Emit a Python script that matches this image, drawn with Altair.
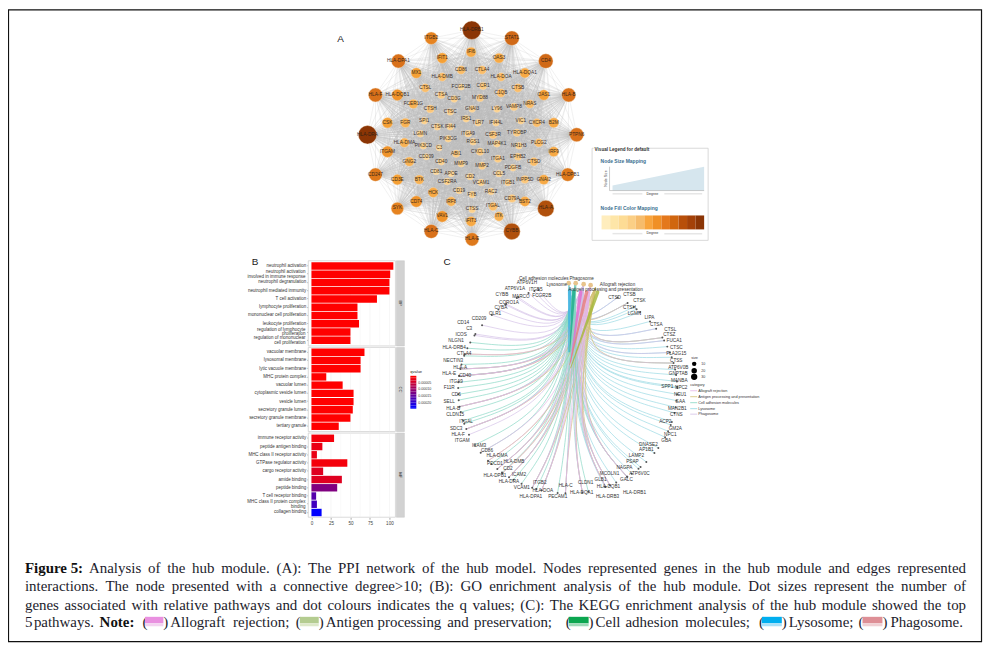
import altair as alt
import pandas as pd
import math

alt.data_transformers.disable_max_rows()

# ---------- Panel A: node name, page x, page y, estimated weight ----------
NET_NAMES = ["HLA-DRB1","ITGB2","STAT1","HLA-DPA1","CD4","IFI6","IFIT1","OAS3","MX1","CD86","CTLA4","HLA-DQA1","HLA-DMB","HLA-DOA",
 "HLA-F","HLA-DQB1","CTSL","CTSA","FCGR2B","CCR1","CTSB","C1QB","OAS1","HLA-B","CD3G","MYD88","FCER1G","NRAS","VAMP8","LY96",
 "CTSH","GNAI3","CTSC","CSK","FGR","SPI1","CTSK","IFI44","IRS1","TLR7","IFI44L","VIC1","CXCR4","B2M","LGMN","HLA-DRA","PTPN6",
 "PIK3CG","ITGA9","CSF3R","TYROBP","HLA-DMA","PIK3CD","C3","RGS1","MAP4K1","NR1H3","PLCG2","ITGAM","ABI1","CXCL10","IRF9","CD209",
 "GNG2","CD40","ITGA1","EPHB2","CTSD","MMP9","MMP2","PDGFB","CD247","HLA-DPB1","CD81","APOE","CD2","CCL5","CD3E","BTK","CSF2RA",
 "VCAM1","ITGB1","INPP5D","GNAI2","HCK","CD19","FYB","RAC2","CD79A","BST2","CD74","IRF8","ITGAL","SYK","CTSS","HLA-A","VAV1","ITK",
 "IFIT3","HLA-C","CYBB","HLA-E"]
NET_X = [473.7,433,514,400,548,473,444,501,418,463,484,527,444,503,377,399,427,443,463,485,520,503,546,571,456,482,415,532,516,499,
 432,474,452,389,407,426,439,452,468,480,498,523,539,556,422,369,579,450,470,495,519,406,425,441,475,499,521,541,389,458,482,556,428,
 411,443,500,520,536,463,484,515,377,570,438,453,472,501,399,421,449,483,510,527,546,435,461,474,493,514,527,418,453,495,399,474,548,
 444,501,473,433,514,474]
NET_Y = [29,37,37,60,60,51,57,57,72,69,69,72,76,76,94,94,87,94,86,85,87,92,94,94,98,97,103,103,106,108,108,108,111,122,122,120,126,126,
 118,122,122,120,122,122,133,134,134,138,133,134,132,142,145,147,141,143,145,142,151,153,151,151,156,161,161,158,156,161,163,165,167,
 174,174,171,173,176,173,179,179,181,182,182,179,179,192,190,194,191,198,201,201,201,206,208,209,208,216,216,221,231,231,239]
NET_W = [9.3,6.3,7.3,7,7.3,5,5.3,5,5.3,4.3,4.3,5,4.3,4.3,7,5.7,4.3,3.8,3.2,3.8,4.3,4.3,5.3,7,3.5,3.8,4.7,4.3,3.8,3.5,
 4,3.5,3.5,5.3,4.7,3.5,3.5,3.5,3.5,3.5,3.5,3.5,4.3,5,3.5,9.3,7,3.5,3.5,4,3.8,4.7,3.5,3.2,3.5,3.5,3.5,4.3,5.7,3.8,3.8,5,3.2,
 4.7,3.5,3.8,3.8,4.3,3.5,3.8,3.5,6.7,6.7,3.2,3.2,3.5,3.5,5.3,4.7,3.5,3.5,3.5,4,5,5,3.5,3.5,3.5,4,5,5.7,4.7,4.3,6.3,3.5,8.3,5.7,4.7,5,7,8.3,6.7]
WEIGHT_STOPS = [3.2,4,4.7,5.3,6,7,8.3,9.3]
WEIGHT_COLORS = ["#fdd898","#fbc679","#f8b253","#f5a035","#eb8a22","#d9711a","#b0500c","#8b3505"]
GRADIENT = ["#ffedbd","#fee6a8","#fddc95","#fbcf85","#f6bc6c","#f8a53e","#f09026","#e4781c","#d0660f","#b84f0a","#a44108","#8b3505"]

# ---------- Panel B ----------
BP_TERMS = ["neutrophil activation","neutrophil activation\ninvolved in immune response","neutrophil degranulation","neutrophil mediated immunity",
 "T cell activation","lymphocyte proliferation","mononuclear cell proliferation","leukocyte proliferation",
 "regulation of lymphocyte\nproliferation","regulation of mononuclear\ncell proliferation"]
BP_COUNT = [105,101,100,100,84,59,59,61,50,50]
BP_Q = [0,0,0,0,0,0,0,0,0,0]
CC_TERMS = ["vacuolar membrane","lysosomal membrane","lytic vacuole membrane","MHC protein complex","vacuolar lumen","cytoplasmic vesicle lumen",
 "vesicle lumen","secretory granule lumen","secretory granule membrane","tertiary granule"]
CC_COUNT = [68,63,63,19,40,54,54,53,50,35]
CC_Q = [0,0,0,0,0,0,0,0,0,0]
MF_TERMS = ["immune receptor activity","peptide antigen binding","MHC class II receptor activity","GTPase regulator activity","cargo receptor activity",
 "amide binding","peptide binding","T cell receptor binding","MHC class II protein complex\nbinding","collagen binding"]
MF_COUNT = [29,14,7,46,15,39,33,6,7,13]
MF_Q = [0.00001,0.00002,0.00002,0.00001,0.00003,0.00003,0.00012,0.00016,0.00018,0.00024]
X_TICKS = [0,25,50,75,100]
X_MINOR = [12.5,37.5,62.5,87.5]
Q_TICKS = ["0.00005","0.00010","0.00015","0.00020"]

# ---------- Panel C: gene, label page x, label page y, pathways ----------
LYSO = ["CTSD","CTSB","CTSK","CTSH","LGMN","LIPA","CTSA","CTSL","CTSZ","FUCA1","CTSC","PLA2G15","CTSS","ATP6V0B","GNPTAB","MANBA","NPC2","SPP1","NEU1",
 "GAA","MAN2B1","CTNS","ACP2","GM2A","NPC1","GBA","DNASE2","AP1B1","LAMP2","PSAP","NAGPA","ATP6V0C","GALC","MCOLN1","GLB1"]
LYSO_X = [617,632,642,632,637,652,659,673,672,677,679,679,679,681,681,682,684,670,683,683,680,679,668,678,673,669,651,649,639,635,627,642,629,612,603]
LYSO_Y = [298,295,301,308,314,318,325,330,335,341,348,354,361,368,374,381,388,387,395,402,409,415,422,429,435,441,445,451,457,463,469,475,481,475,481]
PHAG = ["ATP6V1H","ATP6V1A","ITGB5","CYBB","MARCO","FCGR2B","CORO1A","CYBA","OLR1","CD209","CD14","C3","ITGAM"]
PHAG_X = [529,517,538,504,523,544,511,503,497,481,465,471,464]
PHAG_Y = [283,289,290,295,297,296,303,308,314,319,323,329,441]
ADH = ["ICOS","NLGN1","CTLA4","NECTIN3","CD40","ITGA9","F11R","CD6","SELL","CLDN15","ITGAL","SDC3","ICAM3","CD86","PDCD1","CD2","ICAM2","ITGB2","VCAM1","PECAM1","CLDN1"]
ADH_X = [463,458,466,455,467,458,451,458,451,457,468,458,481,489,497,510,521,542,524,560,588]
ADH_Y = [335,341,354,361,376,382,388,395,402,415,422,429,446,452,465,470,476,484,489,498,484]
HLA = ["HLA-DRB4","HLA-A","HLA-E","HLA-B","HLA-F","HLA-DMA","HLA-DMB","HLA-DPB1","HLA-DRA","HLA-DOA","HLA-DPA1","HLA-C","HLA-DQA1","HLA-DQB1","HLA-DRB1","HLA-DRB3"]
HLA_X = [456,462,451,455,460,499,516,497,511,545,533,568,584,611,637,610]
HLA_Y = [348,368,374,409,435,457,463,477,483,492,498,487,494,488,494,498]
CAT_NAMES = ["Allograft rejection","Antigen processing and presentation","Cell adhesion molecules","Lysosome","Phagosome"]
CAT_EDGE = ["#e4b4e6","#d2bf72","#84d6c2","#94d8e2","#d3c0e6"]
CAT_RIBBON = ["#e070d0","#a8b840","#1fae8e","#3fb3e0","#e58080"]
CAPTION = ["Figure 5: Analysis of the hub module. (A): The PPI network of the hub model. Nodes represented genes in the hub module and edges represented",
 "interactions. The node presented with a connective degree>10; (B): GO enrichment analysis of the hub module. Dot sizes represent the number of",
 "genes associated with relative pathways and dot colours indicates the q values; (C): The KEGG enrichment analysis of the hub module showed the top"]

SX = alt.Scale(domain=[8, 988], range=[0, 980], nice=False, zero=False)
SY = alt.Scale(domain=[8, 648], range=[0, 640], nice=False, zero=False)
X = alt.X("x:Q", scale=SX, axis=None)
Y = alt.Y("y:Q", scale=SY, axis=None)
X2 = alt.X2("x2:Q")
Y2 = alt.Y2("y2:Q")
layers = []

def text(rows, size, color="#222", font="Liberation Sans", align="center", weight="normal", angle=0, opacity=1.0):
    df = pd.DataFrame(rows, columns=["x", "y", "t"])
    layers.append(alt.Chart(df).mark_text(fontSize=size, color=color, font=font, align=align, fontWeight=weight,
                                          baseline="middle", angle=angle, opacity=opacity)
                  .encode(x=X, y=Y, text="t:N"))

def rects(rows, **kw):
    df = pd.DataFrame(rows, columns=["x", "y", "x2", "y2"])
    layers.append(alt.Chart(df).mark_rect(**kw).encode(x=X, y=Y, x2=X2, y2=Y2))

def rules(rows, **kw):
    df = pd.DataFrame(rows, columns=["x", "y", "x2", "y2"])
    layers.append(alt.Chart(df).mark_rule(**kw).encode(x=X, y=Y, x2=X2, y2=Y2))

# frame
rects([[8.5, 8.5, 985.5, 643]], fill="#ffffff", fillOpacity=0, stroke="#111", strokeWidth=1.2)

# ---------- Panel A ----------
n = len(NET_NAMES)
edges = []
big = [i for i in range(n) if NET_W[i] >= 5.0]
small = [i for i in range(n) if NET_W[i] < 5.0]
for i in big:
    for j in small:
        edges.append([NET_X[i], NET_Y[i], NET_X[j], NET_Y[j]])
    for j in big:
        if i < j and math.hypot(NET_X[i]-NET_X[j], NET_Y[i]-NET_Y[j]) < 110:
            edges.append([NET_X[i], NET_Y[i], NET_X[j], NET_Y[j]])
rules(edges, color="#bcbcbc", strokeWidth=0.5, opacity=0.42)
net = pd.DataFrame({"x": NET_X, "y": NET_Y, "w": NET_W, "t": NET_NAMES})
layers.append(alt.Chart(net).mark_point(filled=True, opacity=1, stroke="#f4e4cc", strokeWidth=0.4, shape="circle").encode(
    x=X, y=Y,
    size=alt.Size("w:Q", legend=None, scale=alt.Scale(type="pow", exponent=2, domain=[0, 10], range=[0, 400])),
    color=alt.Color("w:Q", legend=None, scale=alt.Scale(domain=WEIGHT_STOPS, range=WEIGHT_COLORS, interpolate="rgb"))))
layers.append(alt.Chart(net).mark_text(fontSize=4.8, color="#2a2018", font="Liberation Sans", baseline="middle", opacity=0.9).encode(x=X, y=Y, text="t:N"))
text([[342, 38, "A"]], 10, color="#222")

# Visual legend
rects([[594.5, 147.5, 711, 240]], fill="#fff", stroke="#cfcfcf", strokeWidth=0.8)
rects([[596, 146, 638, 151]], fill="#fff")
text([[597, 149, "Visual Legend for default"]], 4.6, align="left", weight="bold", color="#333")
text([[603, 160, "Node Size Mapping"]], 5, align="left", weight="bold", color="#3a6f8f")
layers.append(alt.Chart(pd.DataFrame({"x": [615, 707], "y": [185, 166], "y2": [190, 190]}))
              .mark_area(color="#d6e6ee").encode(x=X, y=Y, y2=Y2))
rules([[612, 166, 612, 190], [612, 190, 707, 190]], color="#999", strokeWidth=0.5)
text([[608, 178, "Node Size"]], 3.6, angle=270, color="#444")
rects([[615, 192.5, 645, 194]], fill="#e6e6e6")
rects([[667, 192.5, 705, 194]], fill="#e6e6e6")
text([[655, 193, "Degree"]], 3.6, color="#333")
text([[603, 208, "Node Fill Color Mapping"]], 5, align="left", weight="bold", color="#3a6f8f")
grad = pd.DataFrame({"x": [604 + i*103/12 for i in range(12)], "x2": [604 + (i+1)*103/12 for i in range(12)], "c": GRADIENT})
grad["y"] = 215; grad["y2"] = 229
layers.append(alt.Chart(grad).mark_rect().encode(x=X, y=Y, x2=X2, y2=Y2,
              color=alt.Color("c:N", scale=None, legend=None)))
rects([[615, 232.5, 645, 234]], fill="#e6e6e6")
rects([[667, 232.5, 705, 234]], fill="#e6e6e6")
text([[655, 233, "Degree"]], 3.6, color="#333")

# ---------- Panel B ----------
text([[256, 262, "B"]], 10, color="#222")
PANELS = [(BP_TERMS, BP_COUNT, BP_Q, 260.5, 346, 261.55, 344.45, "BP"),
          (CC_TERMS, CC_COUNT, CC_Q, 347.5, 432, 348.2, 430.8, "CC"),
          (MF_TERMS, MF_COUNT, MF_Q, 433.5, 518, 434.6, 517.4, "MF")]
XB = alt.Scale(domain=[0, 100], range=[312.7-8, 391-8], nice=False, zero=False)
for k, (terms, count, q, top, bot, r0, r1, strip) in enumerate(PANELS):
    rects([[309.5, top, 397, bot]], fill="#ffffff", stroke="#d0d0d0", strokeWidth=0.8)
    rects([[398, top, 406, bot]], fill="#d2d2d2", stroke="#c4c4c4", strokeWidth=0.5)
    text([[402, (top+bot)/2, strip]], 4.2, angle=90, color="#333")
    for vals, sw in ((X_TICKS, 0.5), (X_MINOR, 0.3)):
        gd = pd.DataFrame({"v": vals}); gd["y"] = top; gd["y2"] = bot
        layers.append(alt.Chart(gd).mark_rule(color="#ececec", strokeWidth=sw).encode(
            x=alt.X("v:Q", scale=XB, axis=None), y=Y, y2=Y2))
    df = pd.DataFrame({"term": terms, "count": count, "q": q})
    ys = alt.Scale(domain=terms, range=[r0-8, r1-8], paddingInner=0.1, paddingOuter=0.05)
    xax = (alt.Axis(orient="bottom", values=X_TICKS, title=None, grid=False, domain=False, offset=-(640-(518-8)), labelFontSize=4.6,
                    labelColor="#444", tickColor="#555", tickSize=2, tickWidth=0.5, labelPadding=1, labelFont="Liberation Sans", labelFlush=False)
           if k == 2 else None)
    layers.append(alt.Chart(df).mark_bar().encode(
        x=alt.X("count:Q", scale=XB, axis=xax),
        y=alt.Y("term:N", scale=ys, sort=None,
                axis=alt.Axis(orient="left", title=None, grid=False, domain=False, offset=-(309.5-8), labelFontSize=4.5, labelColor="#333",
                              tickColor="#555", tickSize=1.5, tickWidth=0.5, labelPadding=1, labelFont="Liberation Sans",
                              labelLimit=200, labelExpr="indexof(datum.label, '\\n') >= 0 ? '' : datum.label", labelOverlap=False)),
        color=alt.Color("q:Q", legend=None, scale=alt.Scale(domain=[0, 0.00024], range=["#ff0000", "#0000ff"], interpolate="rgb"))))
    # two-line category labels, on the same band scale
    two = [t for t in terms if "\n" in t]
    tdf = pd.DataFrame({"term": two, "a": [t.split("\n")[0] for t in two], "b": [t.split("\n")[1] for t in two]})
    for col, dy in (("a", -2.5), ("b", 2.5)):
        layers.append(alt.Chart(tdf).mark_text(fontSize=4.5, color="#333", font="Liberation Sans", align="right", baseline="middle", dy=dy).encode(
            x=alt.value(306.7-8), y=alt.Y("term:N", type="nominal", scale=alt.Scale(type="band", domain=terms, range=[r0-8, r1-8], paddingInner=0.1, paddingOuter=0.05), sort=None, axis=None),
            text=f"{col}:N"))

# q-value colour bar
text([[412, 372, "qvalue"]], 4, align="left", color="#222")
bar = pd.DataFrame({"q": [i*0.00024/20 for i in range(21)]})
bar["y"] = [376 + i*33/21 for i in range(21)]
bar["y2"] = [376 + (i+1)*33/21 for i in range(21)]
bar["x"] = 412; bar["x2"] = 418
layers.append(alt.Chart(bar).mark_rect().encode(x=X, y=Y, x2=X2, y2=Y2,
    color=alt.Color("q:Q", legend=None, scale=alt.Scale(domain=[0, 0.00024], range=["#ff0000", "#0000ff"], interpolate="rgb"))))
text([[420, 383 + i*6.7, s] for i, s in enumerate(Q_TICKS)], 3.6, align="left", color="#333")

# ---------- Panel C ----------
text([[449, 262, "C"]], 10, color="#222")
CAT_XY = {"Lysosome": (571, 283), "Cell adhesion molecules": (578, 283), "Phagosome": (586, 284),
          "Allograft rejection": (593, 285), "Antigen processing and presentation": (598, 287)}
CX, CY = 570, 390
all_genes = list(zip(LYSO, LYSO_X, LYSO_Y)) + list(zip(PHAG, PHAG_X, PHAG_Y)) + list(zip(ADH, ADH_X, ADH_Y)) + list(zip(HLA, HLA_X, HLA_Y))
membership = {}
for g in LYSO: membership[g] = ["Lysosome"]
for g in ["CTSL", "CTSB", "CTSS"]: membership[g] = ["Lysosome", "Antigen processing and presentation", "Phagosome"]
for g in ["CTSD", "CTSA", "CTSC", "CTSZ"]: membership[g] = ["Lysosome", "Phagosome"]
for g in PHAG: membership[g] = ["Phagosome"]
for g in ADH: membership[g] = ["Cell adhesion molecules"]
for g in ["CD40", "CD86"]: membership[g] = ["Cell adhesion molecules", "Allograft rejection"]
for g in HLA: membership[g] = ["Cell adhesion molecules", "Antigen processing and presentation", "Phagosome", "Allograft rejection"]
for g in ["HLA-DMA", "HLA-DMB", "HLA-DRB4"]: membership[g] = ["Antigen processing and presentation", "Allograft rejection"]
rows = []
pid = 0
dots = []
for g, lx, ly in all_genes:
    a = math.atan2(ly-CY, lx-CX)
    gx, gy = CX + 110*math.cos(a), CY + 104*math.sin(a)
    dots.append([gx, gy])
    for cat in membership[g]:
        cx, cy = CAT_XY[cat]
        mx = 572 + 0.1*(gx-572)
        my = 0.5*gy + 0.5*360
        for i, (px, py) in enumerate([(gx, gy), (mx, my), (cx, cy)]):
            rows.append([px, py, pid, i, cat])
        pid += 1
edf = pd.DataFrame(rows, columns=["x", "y", "p", "i", "cat"])
layers.append(alt.Chart(edf).mark_line(interpolate="basis", strokeWidth=0.7, opacity=0.95).encode(
    x=X, y=Y, detail="p:N", order="i:Q",
    color=alt.Color("cat:N", legend=None, scale=alt.Scale(domain=CAT_NAMES, range=CAT_EDGE))))
# converging ribbons
rib = []
RIB_TOP = {"Lysosome": (572, 290), "Cell adhesion molecules": (576, 291), "Allograft rejection": (583, 292),
           "Phagosome": (589, 292), "Antigen processing and presentation": (600, 292)}
RIB_BOT = {"Lysosome": (571, 352), "Cell adhesion molecules": (572, 352), "Allograft rejection": (573, 362),
           "Phagosome": (572, 365), "Antigen processing and presentation": (573, 368)}
for c in CAT_NAMES:
    rib.append([RIB_TOP[c][0], RIB_TOP[c][1], 3.6, c])
    rib.append([RIB_BOT[c][0], RIB_BOT[c][1], 0.8, c])
rdf = pd.DataFrame(rib, columns=["x", "y", "w", "cat"])
layers.append(alt.Chart(rdf).mark_trail(opacity=0.85).encode(
    x=X, y=Y, detail="cat:N",
    size=alt.Size("w:Q", legend=None, scale=alt.Scale(domain=[0, 5], range=[0, 5])),
    color=alt.Color("cat:N", legend=None, scale=alt.Scale(domain=CAT_NAMES, range=CAT_RIBBON))))
# gene dots and labels
ddf = pd.DataFrame(dots, columns=["x", "y"])
layers.append(alt.Chart(ddf).mark_circle(size=4, color="#555", opacity=1).encode(x=X, y=Y))
text([[lx, ly, g] for g, lx, ly in all_genes], 4.7, color="#333")
# category nodes
layers.append(alt.Chart(pd.DataFrame({"x": [571, 578, 586, 593], "y": [283, 283, 284, 285]}))
              .mark_circle(size=22, color="#e8c48c", opacity=1).encode(x=X, y=Y))
text([[546, 279, "Cell adhesion molecules"], [584, 279, "Phagosome"], [559, 285, "Lysosome"], [620, 285, "Allograft rejection"],
      [608, 290, "Antigen processing and presentation"]], 4.6, color="#333")
# legend C
text([[694, 358, "size"], [693, 385, "category"]], 3.8, align="left", color="#333")
sz = pd.DataFrame({"x": [697, 697, 697], "y": [364, 371, 377], "w": [10, 20, 30], "t": ["10", "20", "30"]})
layers.append(alt.Chart(sz).mark_circle(color="#000", opacity=1).encode(x=X, y=Y,
    size=alt.Size("w:Q", legend=None, scale=alt.Scale(domain=[10, 30], range=[20, 40]))))
text([[704, 364, "10"], [704, 371, "20"], [704, 377, "30"]], 3.6, align="left", color="#333")
LEG_Y = [391, 397, 403, 409, 414.5]
lg = pd.DataFrame({"x": [693]*5, "x2": [700]*5, "y": LEG_Y, "y2": LEG_Y, "cat": CAT_NAMES})
layers.append(alt.Chart(lg).mark_rule(strokeWidth=0.8).encode(x=X, y=Y, x2=X2, y2=Y2,
    color=alt.Color("cat:N", legend=None, scale=alt.Scale(domain=CAT_NAMES, range=CAT_EDGE))))
text([[701, y, c] for y, c in zip(LEG_Y, CAT_NAMES)], 3.8, align="left", color="#333")

# ---------- Caption ----------
TIMES = dict(a=.444,b=.5,c=.444,d=.5,e=.444,f=.333,g=.5,h=.5,i=.278,j=.278,k=.5,l=.278,m=.778,n=.5,o=.5,p=.5,q=.5,r=.333,s=.389,t=.278,u=.5,v=.5,w=.722,x=.5,y=.5,z=.444,
             A=.722,B=.667,C=.667,D=.722,E=.611,F=.556,G=.722,H=.722,I=.333,J=.389,K=.722,L=.611,M=.889,N=.722,O=.722,P=.556,Q=.722,R=.667,S=.556,T=.611,U=.722,V=.722,W=.944,X=.722,Y=.722,Z=.611)
TIMES.update({" ": .25, ".": .25, ",": .25, ";": .278, ":": .278, "(": .333, ")": .333, ">": .564, "-": .333})
def tw(s, size):
    return sum(TIMES.get(c, .5) for c in s)*size
CAP_Y = [569, 587, 606]
CAP_FONT = "Liberation Serif"
CAP_SIZE = 15
reg, bold = [], []
for line, y in zip(CAPTION, CAP_Y):
    words = line.split(" ")
    gap = (945 - sum(tw(w, CAP_SIZE) for w in words))/(len(words)-1)
    pos = 25.0
    for wi, w in enumerate(words):
        (bold if line.startswith("Figure") and wi < 2 else reg).append([pos, y, w])
        pos += tw(w, CAP_SIZE) + gap
L4 = 623.5
reg += [[25, L4, "5"], [34, L4, "pathways."], [143, L4, "("], [164, L4, ")"], [171, L4, "Allograft"], [234, L4, "rejection;"],
        [297, L4, "("], [320, L4, ")"], [327, L4, "Antigen"], [379, L4, "processing"], [449, L4, "and"], [476, L4, "preservation;"],
        [568, L4, "("], [591, L4, ")"], [598, L4, "Cell"], [628, L4, "adhesion"], [688, L4, "molecules;"],
        [762, L4, "("], [785, L4, ")"], [792, L4, "Lysosome;"], [862, L4, "("], [886, L4, ")"], [894, L4, "Phagosome."]]
bold.append([100, L4, "Note:"])
text(reg, CAP_SIZE, color="#1c1c2c", font=CAP_FONT, align="left")
text(bold, CAP_SIZE, color="#111", font=CAP_FONT, align="left", weight="bold")
SW_X = [(145.5, 164), (301, 320), (571, 591), (765, 785), (866, 886)]
SW_C = ["#e990e0", "#b4cc90", "#0ca650", "#00aeef", "#de8f96"]
SW_L = ["#f3d3f0", "#dde8c8", "#9ed9b8", "#a8e0f8", "#f0d0d4"]
for (a, b), c, l in zip(SW_X, SW_C, SW_L):
    rects([[a, 618, b, 624.5]], fill=c)
    rects([[a, 624.5, b, 627.5]], fill=l)

chart = alt.layer(*layers).resolve_scale(x="independent", y="independent", color="independent", size="independent").properties(
    width=980, height=640, padding=0, autosize=alt.AutoSizeParams(type="none"), background="#ffffff"
).configure_view(stroke=None)
chart.save("out.html", embed_options={"renderer": "svg", "actions": False})
